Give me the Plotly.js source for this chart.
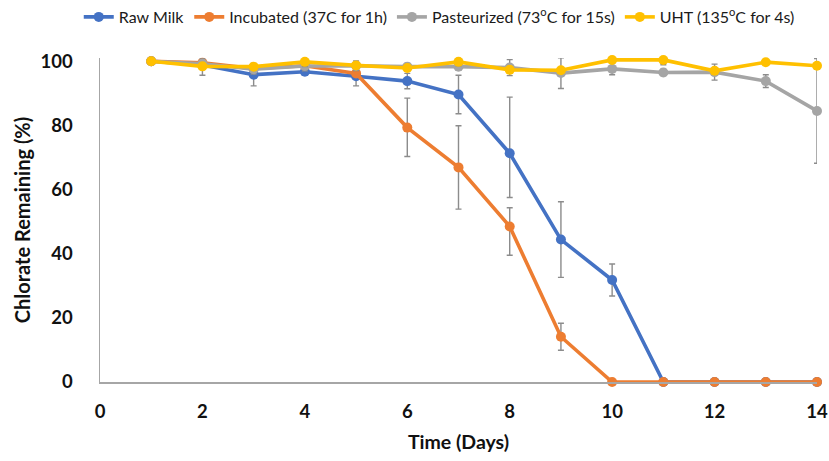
<!DOCTYPE html>
<html>
<head>
<meta charset="utf-8">
<script src="https://cdn.plot.ly/plotly-3.0.1.min.js"></script>
<style>html,body{margin:0;padding:0;background:#fff;}#chart{width:829px;height:461px;}</style>
</head>
<body>
<div id="chart"></div>
<script>
var days = [1,2,3,4,5,6,7,8,9,10,11,12,13,14];
var seriesNames = ['Raw Milk','Incubated (37C for 1h)','Pasteurized (73<sup>o</sup>C for 15s)','UHT (135<sup>o</sup>C for 4s)'];
var rawMilk      = [100,98.8,95.8,96.7,95.3,93.8,89.6,71.3,44.4,31.8,0,0,0,0];
var rawMilkErrP  = [0,3.2,3.5,0,3,2.4,6,17.5,11.8,5,0,0,0,0];
var rawMilkErrM  = [0,3.2,3.5,0,3,2.4,6,13.8,11.8,5,0,0,0,0];
var incubated    = [100,99.5,97.7,98.6,96.2,79.3,66.9,48.5,14.1,0,0,0,0,0];
var incubErrP    = [0,0,0,0,0,9.2,13,5.8,4.2,0,0,0,0,0];
var incubErrM    = [0,0,0,0,0,9,13,9,4.2,0,0,0,0,0];
var pasteurized  = [100,99.2,97.5,98.5,98.6,98.3,98.3,98,96.3,97.6,96.5,96.6,93.8,84.5];
var pastErr      = [0,1.5,1.5,1.5,1.5,1,1,2.5,4.8,1.8,1,2.5,2,16.3];
var uht          = [100,98.4,98.3,99.8,98.7,97.9,99.8,97.3,97.2,100.4,100.4,97,99.7,98.6];
var uhtErr       = [0,0,0,1.5,0,0,1.2,0,0,0,1.5,0,0,0];
var colors = ['#4472C4','#ED7D31','#A5A5A5','#FFC000'];

function errObj(p, m) {
  return {type:'data', symmetric: m ? false : true, array:p, arrayminus: m || p,
          color:'#8c8c8c', thickness:1.4, width:3, visible:true};
}
function tr(y, i, ep, em) {
  return {x:days, y:y, name:seriesNames[i], type:'scatter', mode:'lines+markers',
          cliponaxis:false,
          line:{color:colors[i], width:3.6}, marker:{color:colors[i], size:10},
          error_y: errObj(ep, em)};
}
var data = [
  tr(rawMilk,0,rawMilkErrP,rawMilkErrM),
  tr(incubated,1,incubErrP,incubErrM),
  tr(pasteurized,2,pastErr),
  tr(uht,3,uhtErr)
];
var fontFam = 'Lato, "Open Sans", sans-serif';
var layout = {
  width:829, height:461,
  margin:{l:100, r:12, t:58, b:79},
  paper_bgcolor:'#fff', plot_bgcolor:'#fff',
  showlegend:true,
  legend:{orientation:'h', xref:'container', yref:'container', x:0.095, y:1.0, xanchor:'left', yanchor:'top',
          font:{family:fontFam, size:16, color:'#1a1a1a'}, itemwidth:30, tracegroupgap:0, traceorder:'normal'},
  xaxis:{range:[0,14], tickvals:[0,2,4,6,8,10,12,14], showgrid:false, zeroline:false,
         showline:true, linecolor:'#a6a6a6', linewidth:1.5, ticks:'', ticklen:0,
         tickfont:{family:fontFam, size:18.5, color:'#111', weight:'bold'},
         ticklabelstandoff:12,
         title:{text:'<b>Time (Days)</b>', font:{family:fontFam, size:19.5, color:'#111'}, standoff:14}},
  yaxis:{range:[0,101], tickvals:[0,20,40,60,80,100], showgrid:false, zeroline:false,
         showline:true, linecolor:'#a6a6a6', linewidth:1.5, ticks:'',
         tickfont:{family:fontFam, size:18.5, color:'#111', weight:'bold'},
         ticklabelstandoff:22,
         title:{text:'<b>Chlorate Remaining (%)</b>', font:{family:fontFam, size:20, color:'#111'}, standoff:4}}
};
Plotly.newPlot('chart', data, layout, {displayModeBar:false, staticPlot:true});
</script>
</body>
</html>
